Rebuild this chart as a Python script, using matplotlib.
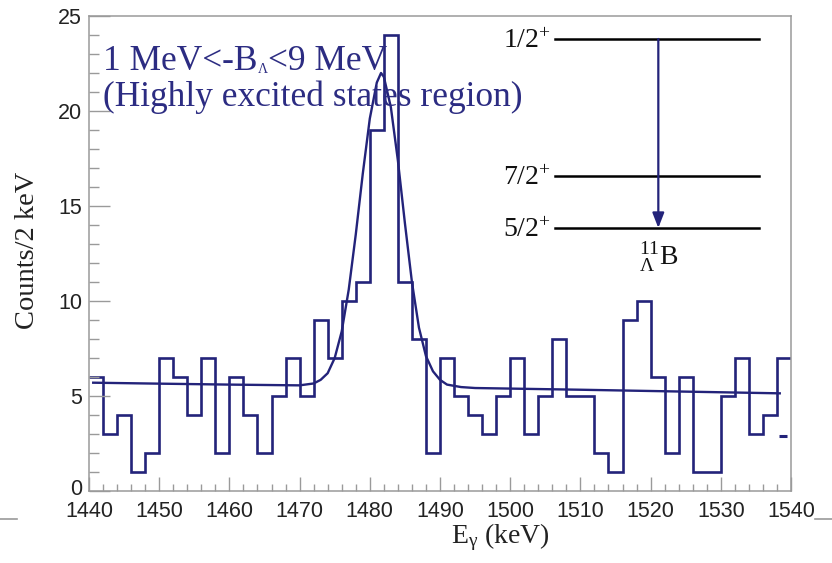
import numpy as np
import matplotlib
matplotlib.use("Agg")
import matplotlib.pyplot as plt
from matplotlib.lines import Line2D
from matplotlib.ticker import MultipleLocator, FuncFormatter

# ---------------- data ----------------
bin_low = 1440
bin_high = 1540
counts = [6, 3, 4, 1, 2, 7, 6, 4, 7, 2, 6, 4, 2, 5, 7, 5, 9, 7, 10, 11,
          19, 24, 11, 8, 2, 7, 5, 4, 3, 5, 7, 3, 5, 8, 5, 5, 2, 1, 9, 10,
          6, 2, 6, 1, 1, 5, 7, 3, 4, 7]

# fit curve
fit_x = [1440.6, 1450, 1460, 1470, 1472, 1473, 1474, 1475, 1476, 1477, 1478,
         1479, 1480, 1481, 1481.6, 1482, 1483, 1484, 1485, 1486, 1487, 1488,
         1489, 1490, 1491, 1493, 1495, 1510, 1525, 1538.4]
fit_y = [5.70, 5.65, 5.60, 5.56, 5.66, 5.85, 6.2, 7.0, 8.4, 10.6, 13.5,
         16.7, 19.6, 21.5, 22.0, 21.8, 20.2, 17.4, 14.1, 11.0, 8.6, 7.1,
         6.3, 5.85, 5.6, 5.47, 5.42, 5.33, 5.23, 5.14]

stray_x = [1538.9]
stray_y = [2.9]

annotation_pieces = ["1 MeV<-B", "\u039b", "<9 MeV"]
annotation_line2 = "(Highly excited states region)"

level_labels = ["1/2$^{+}$", "7/2$^{+}$", "5/2$^{+}$"]
level_pos = [0.9516, 0.663, 0.5537]     # axes fraction heights of levels
nucleus_label = "$^{11}_{\\Lambda}\\mathrm{B}$"

x_label = "E$_{\\mathrm{\\gamma}}$ (keV)"
y_label = "Counts/2 keV"

# ---------------- style ----------------
navy = "#23237a"
text_navy = "#2c2c82"
grey = "#9a9a9a"
tick_font = dict(family="Liberation Sans", size=15.5)

plt.rcParams["mathtext.fontset"] = "custom"
plt.rcParams["mathtext.rm"] = "Liberation Serif"
plt.rcParams["mathtext.it"] = "Liberation Serif:italic"
plt.rcParams["mathtext.bf"] = "Liberation Serif:bold"

fig = plt.figure(figsize=(8.32, 5.63), dpi=100)
ax = fig.add_axes([89 / 832, 72 / 563, 702 / 832, 475 / 563])

edges = np.linspace(bin_low, bin_high, len(counts) + 1)
ax.stairs(counts, edges, baseline=None, color=navy, linewidth=1.9)
ax.plot(fit_x, fit_y, color=navy, linewidth=1.7)
ax.plot(stray_x, stray_y, marker="_", color=navy, markersize=6,
        markeredgewidth=2.2, linestyle="none")

ax.set_xlim(bin_low, bin_high)
ax.set_ylim(0, 25)

ax.xaxis.set_major_locator(MultipleLocator(10))
ax.xaxis.set_minor_locator(MultipleLocator(2))
ax.yaxis.set_major_locator(MultipleLocator(5))
ax.yaxis.set_minor_locator(MultipleLocator(1))
# the "0" on the y axis is drawn separately, nudged clear of "1440"
ax.yaxis.set_major_formatter(FuncFormatter(lambda v, p: "" if v == 0 else f"{v:g}"))

ax.tick_params(which="both", direction="in", color=grey, width=1.0,
               top=False, right=False, labelcolor="#222222")
ax.tick_params(axis="x", which="major", length=10, pad=7)
ax.tick_params(axis="x", which="minor", length=5)
ax.tick_params(axis="y", which="major", length=15, pad=5)
ax.tick_params(axis="y", which="minor", length=7.5)
for lab in ax.get_xticklabels() + ax.get_yticklabels():
    lab.set_fontfamily(tick_font["family"])
    lab.set_fontsize(tick_font["size"])

ax.annotate("0", xy=(0, 0), xycoords=("axes fraction", "data"),
            xytext=(-5, 2.6), textcoords="offset points", ha="right",
            va="center_baseline", color="#222222", **tick_font)

for sp in ax.spines.values():
    sp.set_color(grey)
    sp.set_linewidth(1.1)

# annotation text (first line built from pieces for the tiny subscript)
t1 = ax.text(0.02, 0.886, annotation_pieces[0], transform=ax.transAxes,
             fontsize=25.5, family="Liberation Serif", color=text_navy,
             va="baseline", ha="left")
t2 = ax.annotate(annotation_pieces[1], xy=(1, 0), xycoords=t1,
                 xytext=(0.5, 1.5), textcoords="offset points",
                 fontsize=10, family="Liberation Serif", color=text_navy,
                 va="bottom", ha="left")
t3 = ax.annotate(annotation_pieces[2], xy=(1, 0), xycoords=(t2, t1),
                 xytext=(0, 0), textcoords="offset points",
                 fontsize=25.5, family="Liberation Serif", color=text_navy,
                 va="bottom", ha="left")
ax.text(0.02, 0.8105, annotation_line2, transform=ax.transAxes,
        fontsize=25.5, family="Liberation Serif", color=text_navy,
        va="baseline", ha="left")

# level scheme
lx0, lx1 = 0.6638, 0.9544
for lab, yy in zip(level_labels, level_pos):
    ax.plot([lx0, lx1], [yy, yy], transform=ax.transAxes, color="black",
            linewidth=1.8, clip_on=False)
    ax.text(lx0 - 0.006, yy - 0.005, lab, transform=ax.transAxes,
            fontsize=20, family="Liberation Serif", ha="right", va="center",
            color="#111111")
arrow_x = 0.811
ax.annotate("", xy=(arrow_x, level_pos[2]), xytext=(arrow_x, level_pos[0]),
            xycoords="axes fraction", textcoords="axes fraction",
            arrowprops=dict(arrowstyle="-|>,head_length=0.9,head_width=0.35",
                            color=navy, linewidth=1.6, shrinkA=0, shrinkB=0))
ax.text(arrow_x, 0.476, nucleus_label, transform=ax.transAxes, fontsize=20,
        ha="center", va="baseline", color="#111111")

# axis titles
fig.text(500 / 832, (563 - 543) / 563, x_label, fontsize=20,
         family="Liberation Serif", ha="center", va="baseline", color="#222222")
fig.text(27 / 832, (563 - 250) / 563, y_label, fontsize=20.5, rotation=90,
         family="Liberation Serif", ha="center", va="center", color="#222222")

# cropped frame remnants at the bottom corners
fig.add_artist(Line2D([0, 17 / 832], [(563 - 519) / 563] * 2, color=grey,
                      linewidth=1.2))
fig.add_artist(Line2D([815 / 832, 1], [(563 - 519) / 563] * 2, color=grey,
                      linewidth=1.2))

fig.savefig("out.png", dpi=100)
